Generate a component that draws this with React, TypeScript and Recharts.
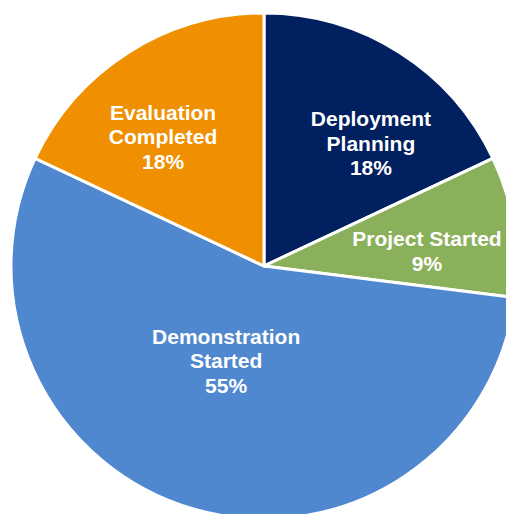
import React from "react";
import { PieChart, Pie, Cell } from "recharts";

const CATEGORIES = ["Deployment Planning", "Project Started", "Demonstration Started", "Evaluation Completed"];
const VALUES = [18, 9, 55, 18];
const COLORS = ["#002060", "#8BB05B", "#4F88CF", "#F08F00"];
const LABEL_LINES = [["Deployment", "Planning"], ["Project Started"], ["Demonstration", "Started"], ["Evaluation", "Completed"]];

// label placement tweaks (angle offset from mid-angle in degrees, radius fraction)
const LABEL_ANGLE_OFFSET = [-8.6, -3.7, -5.6, 5.6];
const LABEL_RADIUS_FRAC = [0.644, 0.647, 0.403, 0.648];

const data = CATEGORIES.map((name, i) => ({ name, value: VALUES[i] }));
const RAD = Math.PI / 180;

const renderLabel = (props: any) => {
  const { cx, cy, midAngle, outerRadius, percent, index } = props;
  const ang = midAngle + LABEL_ANGLE_OFFSET[index];
  const r = outerRadius * LABEL_RADIUS_FRAC[index];
  const x = cx + r * Math.cos(-ang * RAD);
  const y = cy + r * Math.sin(-ang * RAD);
  const lines = [...LABEL_LINES[index], `${Math.round(percent * 100)}%`];
  const lh = 24.5;
  const top = y - ((lines.length - 1) * lh) / 2;
  return (
    <text
      key={`lbl-${index}`}
      x={x}
      y={y}
      textAnchor="middle"
      fill="#FFFFFF"
      fontFamily="'Liberation Sans', Arial, sans-serif"
      fontWeight="bold"
      fontSize={21}
    >
      {lines.map((t, i) => (
        <tspan key={i} x={x} y={top + i * lh + 7.5}>
          {t}
        </tspan>
      ))}
    </text>
  );
};

export default function App() {
  return (
    <div style={{ position: "absolute", left: 0, top: 0, width: 506, height: 514, background: "#FFFFFF" }}>
      <PieChart width={506} height={514} margin={{ top: 0, right: 0, bottom: 0, left: 0 }}>
        <Pie
          data={data}
          dataKey="value"
          nameKey="name"
          cx={264}
          cy={266}
          outerRadius={253}
          startAngle={90}
          endAngle={-270}
          stroke="#FFFFFF"
          strokeWidth={3}
          isAnimationActive={false}
          labelLine={false}
          label={renderLabel}
        >
          {data.map((d, i) => (
            <Cell key={d.name} fill={COLORS[i]} />
          ))}
        </Pie>
      </PieChart>
    </div>
  );
}
